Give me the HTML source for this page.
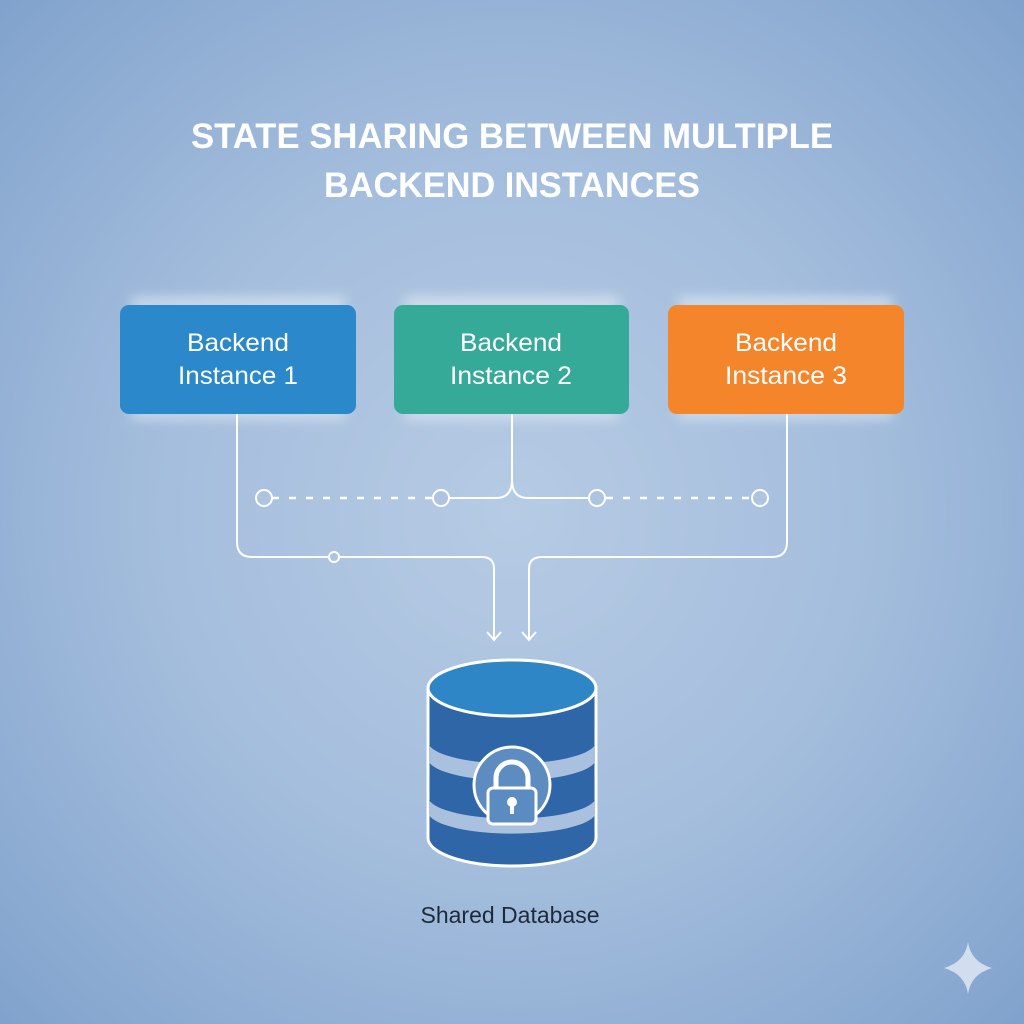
<!DOCTYPE html>
<html><head><meta charset="utf-8"><style>
html,body{margin:0;padding:0;width:1024px;height:1024px;overflow:hidden}
body{background:radial-gradient(ellipse 75% 75% at 50% 50%,#b6cbe4 0%,#a5bedd 45%,#88a8d0 85%,#7b9ec9 100%)}
text{font-family:"Liberation Sans",sans-serif}
</style></head><body>
<svg width="1024" height="1024" viewBox="0 0 1024 1024" xmlns="http://www.w3.org/2000/svg">
<defs>
<filter id="glow" x="-20%" y="-40%" width="140%" height="180%"><feGaussianBlur stdDeviation="6"/></filter>
</defs>
<text x="512" y="148" text-anchor="middle" fill="#fff" font-size="35" font-weight="bold" textLength="642" lengthAdjust="spacingAndGlyphs">STATE SHARING BETWEEN MULTIPLE</text>
<text x="512" y="197" text-anchor="middle" fill="#fff" font-size="35" font-weight="bold" textLength="376" lengthAdjust="spacingAndGlyphs">BACKEND INSTANCES</text>

<g fill="#fff" opacity="0.6" filter="url(#glow)">
<rect x="130" y="298" width="216" height="10" rx="5"/>
<rect x="404" y="298" width="216" height="10" rx="5"/>
<rect x="678" y="298" width="216" height="10" rx="5"/>
<rect x="130" y="410" width="216" height="8" rx="4"/>
<rect x="404" y="410" width="216" height="8" rx="4"/>
<rect x="678" y="410" width="216" height="8" rx="4"/>
</g>
<rect x="120" y="305" width="236" height="109" rx="9" fill="#2a88cb"/>
<rect x="394" y="305" width="235" height="109" rx="9" fill="#36aa98"/>
<rect x="668" y="305" width="236" height="109" rx="9" fill="#f5852b"/>
<g fill="#fff" font-size="25" text-anchor="middle">
<text x="238" y="351" textLength="102" lengthAdjust="spacingAndGlyphs">Backend</text><text x="238" y="384" textLength="120" lengthAdjust="spacingAndGlyphs">Instance 1</text>
<text x="511" y="351" textLength="102" lengthAdjust="spacingAndGlyphs">Backend</text><text x="511" y="384" textLength="122" lengthAdjust="spacingAndGlyphs">Instance 2</text>
<text x="786" y="351" textLength="102" lengthAdjust="spacingAndGlyphs">Backend</text><text x="786" y="384" textLength="122" lengthAdjust="spacingAndGlyphs">Instance 3</text>
</g>

<g fill="none" stroke="#fff" stroke-width="2">
<path d="M237 414 V542 Q237 557 252 557 H482 Q494 557 494 569 V640"/>
<path d="M487 632 L494 640 L501 632"/>
<path d="M787 414 V542 Q787 557 772 557 H542 Q529 557 529 569 V640"/>
<path d="M522 632 L529 640 L536 632"/>
<path d="M512 414 V480 Q512 498 496 498 H450"/>
<path d="M512 480 Q512 498 528 498 H588"/>
<path d="M272 498 H432 M606 498 H751" stroke-dasharray="7 10" stroke-width="2.5"/>
<circle cx="264" cy="498" r="8" fill="#aec4e0"/>
<circle cx="441" cy="498" r="8" fill="#aec4e0"/>
<circle cx="597" cy="498" r="8" fill="#aec4e0"/>
<circle cx="760" cy="498" r="8" fill="#aec4e0"/>
<circle cx="334" cy="557" r="5" fill="#aec4e0"/>
</g>

<g>
<path d="M428 688 V838 A84 28 0 0 0 596 838 V688 Z" fill="#2e66a8" stroke="#fff" stroke-width="3"/>
<path d="M429 745 A84 22 0 0 0 595 745 V762 A84 22 0 0 1 429 762 Z" fill="#a9c1de"/>
<path d="M429 800 A84 22 0 0 0 595 800 V815 A84 22 0 0 1 429 815 Z" fill="#a9c1de"/>
<ellipse cx="512" cy="688" rx="84" ry="28" fill="#2e86c6" stroke="#fff" stroke-width="3"/>
<circle cx="512" cy="785" r="38" fill="#5d8dc0" stroke="#fff" stroke-width="3"/>
<path d="M496 792 V778 A16 16 0 0 1 528 778 V792" fill="none" stroke="#fff" stroke-width="5"/>
<rect x="488" y="788" width="48" height="36" rx="5" fill="#5b8cc1" stroke="#fff" stroke-width="3"/>
<circle cx="512" cy="802" r="5" fill="#fff"/>
<rect x="510" y="804" width="4" height="10" fill="#fff"/>
</g>
<text x="510" y="923" text-anchor="middle" fill="#1e2a3a" font-size="23">Shared Database</text>
<path d="M968 942 Q971 962 992 968 Q971 974 968 994 Q965 974 944 968 Q965 962 968 942 Z" fill="#dfe8f5" opacity="0.85"/>
</svg>
</body></html>
